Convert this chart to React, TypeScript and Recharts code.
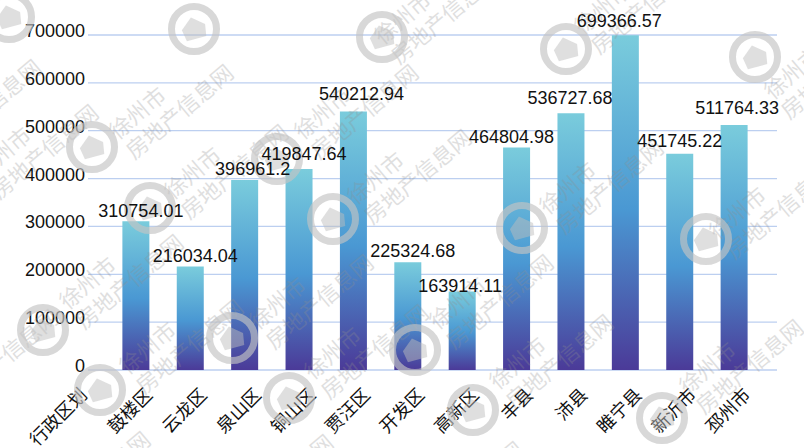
import { BarChart, Bar, XAxis, YAxis, CartesianGrid, LabelList } from "recharts";

const districts = ["行政区划", "鼓楼区", "云龙区", "泉山区", "铜山区", "贾汪区", "开发区", "高新区", "丰县", "沛县", "睢宁县", "新沂市", "邳州市"];
const amounts = [null, 310754.01, 216034.04, 396961.2, 419847.64, 540212.94, 225324.68, 163914.11, 464804.98, 536727.68, 699366.57, 451745.22, 511764.33];
const yTicks = [0, 100000, 200000, 300000, 400000, 500000, 600000, 700000];

const rows = districts.map((name, i) => ({ name, amount: amounts[i] }));

// hand placed value labels in the original don't sit exactly over the bars
// (LabelList skips the empty first row, so this starts at 鼓楼区)
const labelNudges = [
  [5, 1], [5, 0], [8, 0], [5, -4], [8, -6], [5, 0], [-2, 5], [-5, 0], [-1, -4], [-6, -3], [0, -2], [3, -6],
];

// watermark stamps, centre points in page pixels
const stampRings = [
  [9, 17], [194, 29], [382, 37], [566, 49], [755, 57],
  [92, 147], [277, 159], [150, 208], [333, 219], [522, 228], [706, 239],
  [43, 330], [232, 338], [415, 350], [100, 390], [289, 398], [473, 410], [662, 418],
];
const stampTexts = [
  [175, 100], [230, 160], [413, 165], [605, 175], [775, 200],
  [40, 140], [-17, 95], [125, 270], [315, 290], [495, 290], [360, 100],
  [185, 335], [370, 340], [555, 350], [745, 355], [0, 345], [92, 467], [275, 470], [465, 477], [640, -5], [440, 5], [830, 60],
];

const sans = "Liberation Sans, Arial, sans-serif";
const cjk = "'Noto Sans CJK SC', sans-serif";
const chartMargin = { top: 35, right: 43, bottom: 48, left: 14 };
const layer = { position: "absolute", left: 0, top: 0 } as const;

function YTick({ y, payload }: any) {
  return (
    <text x={85} y={y + 2} textAnchor="end" fontSize={18} fontFamily={sans} fill="#111">
      {payload.value}
    </text>
  );
}

function XTick({ x, y, index, payload }: any) {
  // the first label sits further left than the rest in the original
  const endX = index === 0 ? x + 7 : x + 18;
  return (
    <text
      x={0}
      y={0}
      transform={`translate(${endX},${y + 18}) rotate(-45)`}
      textAnchor="end"
      fontSize={18}
      fontFamily={cjk}
      fill="#111"
    >
      {payload.value}
    </text>
  );
}

function ValueLabel({ x, y, width, value, index }: any) {
  if (value == null) return null;
  const [dx, dy] = labelNudges[index];
  return (
    <text x={x + width / 2 + dx} y={y - 5 + dy} textAnchor="middle" fontSize={18} fontFamily={sans} fill="#111">
      {value}
    </text>
  );
}

function Watermark() {
  return (
    <svg width={804} height={448} style={{ ...layer, pointerEvents: "none" }}>
      {stampTexts.map(([cx, cy], i) => (
        <g key={i} transform={`translate(${cx},${cy}) rotate(-40)`} fontFamily={cjk} fontSize={22} fill="#8f8f8f" opacity={0.28}>
          <text x={-70} y={-6}>徐州市</text>
          <text x={-70} y={20}>房地产信息网</text>
        </g>
      ))}
      {stampRings.map(([cx, cy], i) => (
        <g key={i} opacity={0.65}>
          <circle cx={cx} cy={cy} r={22.5} fill="none" stroke="#c4c4c4" strokeWidth={7} />
          <path
            transform={`translate(${cx},${cy}) rotate(-15)`}
            d="M0 -12 L12 -2 L10 10 L-10 10 L-12 -2 Z"
            fill="#bdbdbd"
            opacity={0.75}
          />
        </g>
      ))}
    </svg>
  );
}

export default function App() {
  return (
    <div style={{ ...layer, width: 804, height: 448, background: "#fff", overflow: "hidden" }}>
      <BarChart width={804} height={448} data={rows} margin={chartMargin}>
        <defs>
          <linearGradient id="barFade" x1="0" y1="0" x2="0" y2="1">
            <stop offset="0%" stopColor="#7accdc" />
            <stop offset="52%" stopColor="#4a98d3" />
            <stop offset="100%" stopColor="#4b3a98" />
          </linearGradient>
        </defs>
        <CartesianGrid vertical={false} x={88} width={689} stroke="#bccff0" strokeWidth={1.3} />
        <XAxis dataKey="name" interval={0} height={30} axisLine={false} tickLine={false} tick={<XTick />} />
        <YAxis width={40} domain={[0, 700000]} ticks={yTicks} axisLine={false} tickLine={false} tick={<YTick />} />
        <Bar dataKey="amount" fill="url(#barFade)" barSize={27} isAnimationActive={false} />
      </BarChart>
      <Watermark />
      {/* same chart again with invisible bars, so the value labels stay above the watermark */}
      <div style={layer}>
        <BarChart width={804} height={448} data={rows} margin={chartMargin}>
          <XAxis dataKey="name" height={30} tick={false} axisLine={false} tickLine={false} />
          <YAxis width={40} domain={[0, 700000]} ticks={yTicks} tick={false} axisLine={false} tickLine={false} />
          <Bar dataKey="amount" fill="none" barSize={27} isAnimationActive={false}>
            <LabelList dataKey="amount" content={<ValueLabel />} />
          </Bar>
        </BarChart>
      </div>
    </div>
  );
}
